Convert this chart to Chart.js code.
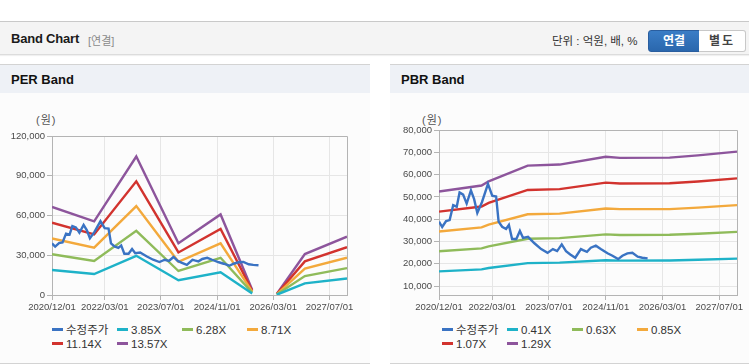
<!DOCTYPE html>
<html>
<head>
<meta charset="utf-8">
<script src="https://cdn.jsdelivr.net/npm/chart.js@4/dist/chart.umd.min.js"></script>
<style>
html,body{margin:0;padding:0;background:#fff;width:749px;height:364px;overflow:hidden;font-family:"Liberation Sans","Noto Sans CJK KR",sans-serif;}
.a{position:absolute;}
#topline{left:0;top:21px;width:749px;height:1px;background:#c9c9c9;}
#hdr{left:0;top:22px;width:749px;height:32px;background:#f4f4f4;border-bottom:1px solid #dcdcdc;box-shadow:0 1px 1px rgba(0,0,0,0.06);}
#title{left:11px;top:31px;font-size:13px;font-weight:bold;color:#1a1a1a;letter-spacing:-0.2px;}
#sub{left:88px;top:32px;font-size:11px;color:#8a8a8a;}
#unit{left:552px;top:32px;font-size:11.5px;color:#333;}
#b1{left:648px;top:30px;width:50px;height:20px;background:linear-gradient(#3a7dc6,#2a67ad);border:1px solid #2a5e9f;border-radius:3px 0 0 3px;color:#fff;font-size:12px;font-weight:bold;text-align:center;line-height:20px;}
#b2{left:699px;top:30px;width:46px;height:20px;background:#fff;border:1px solid #c8c8c8;border-left:none;border-radius:0 3px 3px 0;color:#444;font-size:12px;font-weight:bold;text-align:center;line-height:20px;letter-spacing:2px;}
.panel{top:64px;height:298px;border-top:1px solid #d3d3d3;border-bottom:1px solid #d3d3d3;background:#fcfcfc;}
.phdr{left:0;top:0;right:0;height:28px;background:#eef1f6;}
.ptitle{left:11px;top:7px;font-size:13px;font-weight:bold;color:#111;}
.unitlbl{font-size:11px;color:#555;letter-spacing:1px;}
.leg{font-size:11.5px;color:#333;}
.li{position:absolute;white-space:nowrap;height:14px;line-height:14px;}
.lm{display:inline-block;width:11px;height:3px;vertical-align:middle;margin-right:3px;position:relative;top:-1px;}
</style>
</head>
<body>
<div class="a" id="topline"></div>
<div class="a" id="hdr"></div>
<div class="a" id="title">Band Chart</div>
<div class="a" id="sub">[연결]</div>
<div class="a" id="unit">단위 : 억원, 배, %</div>
<div class="a" id="b1">연결</div>
<div class="a" id="b2">별도</div>

<div class="a panel" style="left:0;width:370px;">
  <div class="a phdr"></div>
  <div class="a ptitle">PER Band</div>
</div>
<div class="a panel" style="left:390px;width:359px;">
  <div class="a phdr"></div>
  <div class="a ptitle">PBR Band</div>
</div>

<div class="a unitlbl" style="left:36px;top:111px;">(원)</div>
<div class="a unitlbl" style="left:422px;top:111px;">(원)</div>

<div class="a" style="left:0;top:100px;width:370px;height:220px;"><canvas id="per"></canvas></div>
<div class="a" style="left:390px;top:100px;width:359px;height:220px;"><canvas id="pbr"></canvas></div>

<div class="a leg" id="perLeg" style="left:52px;top:323px;width:300px;height:30px;"></div>
<div class="a leg" id="pbrLeg" style="left:442px;top:323px;width:300px;height:30px;"></div>

<script>
// ---------- DATA ----------
const xTickLabels = ["2020/12/01", "2022/03/01", "2023/07/01", "2024/11/01", "2026/03/01", "2027/07/01"];
const axisStartLabel = "2020/12/01";
const axisEndLabel = "2027/12/01";

// 수정주가 (adjusted price): months since 2020/12/01, value in 원
const priceMonths = [0, 0.9, 2, 3, 4, 5, 5.8, 6.8, 7.8, 9, 9.9, 10.8, 12.1, 13.8, 15, 16.1, 16.8, 17.8, 18.9, 19.7,
  20.6, 21.8, 22.8, 23.7, 25.1, 26.9, 28.8, 30.6, 32.1, 33.3, 34.6, 35.8, 37, 38.4, 40, 40.6, 41.7, 42.8, 44.2,
  45.6, 47.5, 48.9, 50.5, 51.7, 53.1, 54.5, 56, 57.3, 58.8];
const priceValues = [38900, 36500, 39200, 39600, 46300, 45600, 52000, 51000, 47000, 52900, 49000, 42800, 47600, 55800, 50500, 50200, 38900, 36600, 35600, 37400,
  31100, 31100, 34700, 31600, 32100, 29200, 26600, 24900, 26600, 25700, 28700, 25700, 24200, 22700, 26600, 26100, 25400, 27200, 28100,
  26600, 24700, 23600, 22100, 23600, 24700, 24900, 23200, 22700, 22400];

// PER band lines (null = gap)
const perLabels = ["3.85X", "6.28X", "8.71X", "11.14X", "13.57X"];
const perMonths = [0, 12, 24, 36, 48, 57, 61, 64, 72, 84];
const per385  = [18900, 15800, 29600, 11100, 17200, 1100, null, 200, 8800, 12500];
const per628  = [30800, 25700, 48400, 18100, 28100, 1800, null, 400, 14300, 20300];
const per871  = [42700, 35700, 67100, 25100, 39000, 2500, null, 500, 19900, 28200];
const per1114 = [54600, 45700, 85800, 32100, 49900, 3200, null, 700, 25400, 36100];
const per1357 = [66500, 55600, 104500, 39100, 60800, 3900, null, 800, 30900, 44000];

// PBR band lines
const pbrLabels = ["0.41X", "0.63X", "0.85X", "1.07X", "1.29X"];
const pbrMonths = [0, 12, 14, 25, 34, 47, 51, 65, 73, 84];
const pbr041 = [16600, 17500, 18100, 20300, 20500, 21600, 21400, 21500, 21800, 22300];
const pbr063 = [25600, 26900, 27800, 31200, 31500, 33200, 32900, 33000, 33500, 34300];
const pbr085 = [34500, 36300, 37600, 42200, 42500, 44800, 44500, 44500, 45200, 46300];
const pbr107 = [43400, 45700, 47300, 53100, 53500, 56400, 56000, 56100, 56900, 58300];
const pbr129 = [52400, 55100, 57000, 64000, 64500, 68000, 67500, 67600, 68600, 70300];

const priceLabel = "수정주가";
const perYTicks = [0, 30000, 60000, 90000, 120000];
const pbrYTicks = [10000, 20000, 30000, 40000, 50000, 60000, 70000, 80000];

// ---------- STYLE ----------
const colors = ['#3a73c3', '#1eb2c8', '#8fbb5a', '#f3a93c', '#d2332e', '#8d559c'];

function monthsOf(label) {
  const p = label.split('/').map(Number);
  const s = axisStartLabel.split('/').map(Number);
  return (p[0] - s[0]) * 12 + (p[1] - s[1]);
}
function pts(xs, ys) { return xs.map((x, i) => ({x: x, y: ys[i]})); }

const framePlugin = {
  id: 'frame',
  beforeDatasetsDraw(chart) {
    const a = chart.chartArea, c = chart.ctx;
    c.save();
    c.strokeStyle = '#b4b4b4';
    c.lineWidth = 1;
    c.beginPath();
    c.moveTo(Math.round(a.left) + 0.5, Math.round(a.top) + 0.5);
    c.lineTo(Math.round(a.right) + 0.5, Math.round(a.top) + 0.5);
    c.lineTo(Math.round(a.right) + 0.5, Math.round(a.bottom) + 0.5);
    c.stroke();
    c.restore();
  }
};

function makeChart(id, bandMonths, bands, bandLabels, yMin, yMax, yTicks, yWidth, padTop, padRight) {
  const datasets = [{
    label: priceLabel, data: pts(priceMonths, priceValues), borderColor: colors[0]
  }];
  bands.forEach((b, i) => datasets.push({label: bandLabels[i], data: pts(bandMonths, b), borderColor: colors[i + 1]}));
  datasets.forEach(d => { d.borderWidth = 2.4; d.pointRadius = 0; d.tension = 0; d.spanGaps = false; d.fill = false; });

  new Chart(document.getElementById(id), {
    type: 'line',
    data: {datasets: datasets},
    plugins: [framePlugin],
    options: {
      responsive: true, maintainAspectRatio: false, animation: false,
      layout: {padding: {top: padTop, right: padRight, left: 0, bottom: 0}},
      plugins: {legend: {display: false}, tooltip: {enabled: false}},
      scales: {
        x: {
          type: 'linear', min: 0, max: monthsOf(axisEndLabel),
          afterBuildTicks: s => { s.ticks = xTickLabels.map(l => ({value: monthsOf(l)})); },
          afterFit: s => { s.height = 25; },
          grid: {color: '#e6e6e6', tickColor: '#b4b4b4', tickLength: 5},
          border: {color: '#b4b4b4'},
          ticks: {
            autoSkip: false, maxRotation: 0, padding: 2, color: '#4a4a4a',
            font: {family: 'Liberation Sans', size: 9.5},
            callback: v => { const i = xTickLabels.findIndex(l => monthsOf(l) === v); return i >= 0 ? xTickLabels[i] : ''; }
          }
        },
        y: {
          min: yMin, max: yMax,
          afterBuildTicks: s => { s.ticks = yTicks.map(v => ({value: v})); },
          afterFit: s => { s.width = yWidth; },
          grid: {color: '#e6e6e6', tickColor: '#b4b4b4', tickLength: 5},
          border: {color: '#b4b4b4'},
          ticks: {
            padding: 2, color: '#4a4a4a',
            font: {family: 'Liberation Sans', size: 9.5},
            callback: v => Number(v).toLocaleString('en-US')
          }
        }
      }
    }
  });
  return datasets;
}

function makeLegend(elId, datasets) {
  const el = document.getElementById(elId);
  datasets.forEach((d, i) => {
    const it = document.createElement('div');
    it.className = 'li';
    it.style.left = (i % 4) * 65 + 'px';
    it.style.top = Math.floor(i / 4) * 14 + 'px';
    const m = document.createElement('span');
    m.className = 'lm';
    m.style.background = d.borderColor;
    it.appendChild(m);
    it.appendChild(document.createTextNode(d.label));
    el.appendChild(it);
  });
}

const perDs = makeChart('per', perMonths, [per385, per628, per871, per1114, per1357], perLabels, 0, 120000, perYTicks, 52, 36, 23);
const pbrDs = makeChart('pbr', pbrMonths, [pbr041, pbr063, pbr085, pbr107, pbr129], pbrLabels, 6000, 80000, pbrYTicks, 49, 30, 12);
makeLegend('perLeg', perDs);
makeLegend('pbrLeg', pbrDs);
</script>
</body>
</html>
